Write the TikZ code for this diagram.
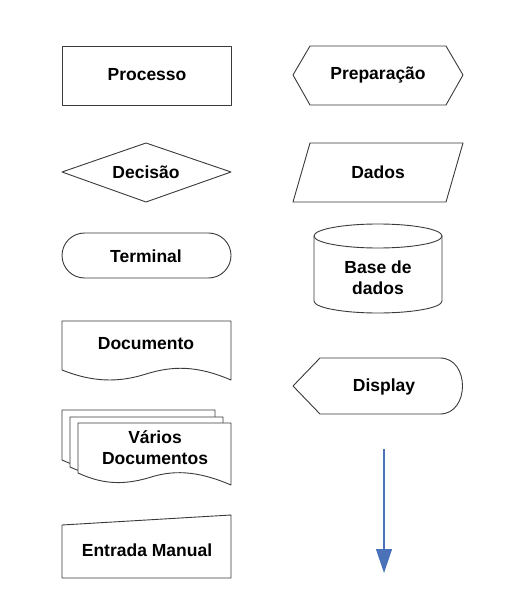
\documentclass[tikz,border=0pt]{standalone}
\usepackage{fontspec}
\setmainfont{Liberation Sans}
\usetikzlibrary{arrows.meta}

\definecolor{linha}{HTML}{3A3A3A}
\definecolor{seta}{HTML}{4A72B8}

\begin{document}
\begin{tikzpicture}[x=1pt,y=-1pt,
    forma/.style={draw=linha, line width=0.9pt, fill=white, line join=round},
    rotulo/.style={font=\fontsize{17.5}{21}\selectfont\bfseries, align=center, text=black}]
            \useasboundingbox (0,0) rectangle (516,609);
            % coluna da esquerda
            \draw[forma] (62,46) rectangle (231,105);
            \draw[forma] (62,172) -- (146,143) -- (231,172) -- (146,202) -- cycle;
            \draw[forma, rounded corners=22.5pt] (62,233) rectangle (231,278);
            \draw[forma] (62,321) -- (231,321) -- (231,380)
                .. controls (196,365) and (172,366) .. (146,374)
                .. controls (118,383) and (92,382) .. (62,370) -- cycle;
            \foreach \d/\e in {0/0, 8/7, 16/13}
                \draw[forma, shift={(62+\d,410+\e)}] (0,0) -- (153,0) -- (153,62)
                    .. controls (118,47) and (94,47) .. (70,55)
                    .. controls (42,63) and (22,60) .. (0,50) -- cycle;
            \draw[forma] (62,525) -- (231,515) -- (231,578) -- (62,578) -- cycle;
            % coluna da direita
            \draw[forma] (293,75) -- (310,46) -- (446,46) -- (463,75) -- (446,105) -- (310,105) -- cycle;
            \draw[forma] (310,143) -- (463,143) -- (446,202) -- (293,202) -- cycle;
            \draw[forma] (314,236) -- (314,301) arc[start angle=180, end angle=360, x radius=64, y radius=-12]
                -- (442,236);
            \draw[forma] (378,236) ellipse [x radius=64, y radius=12];
            \draw[forma] (293,386) -- (320,358) -- (440,358)
                .. controls (470,358) and (470,414) .. (440,414) -- (320,414) -- cycle;
            % textos
            \node[rotulo] (processo) at (147,75)  {Processo};
            \node[rotulo] (preparacao) at (378,75) {Preparação};
            \node[rotulo] (decisao) at (146,172)  {Decisão};
            \node[rotulo] (dados) at (378,172)    {Dados};
            \node[rotulo] (terminal) at (146,256) {Terminal};
            \node[rotulo] (base) at (378,278)     {Base de\\dados};
            \node[rotulo] (documento) at (146,344) {Documento};
            \node[rotulo] (display) at (384,387)  {Display};
            \node[rotulo] (varios) at (155,448)   {Vários\\Documentos};
            \node[rotulo] (entrada) at (147,550)  {Entrada Manual};
            % seta
            \coordinate (inicio) at (384,449);
            \coordinate (fim) at (384,573);
            \draw[seta, line width=1.3pt, -{Triangle[length=24pt, width=16pt]}] (inicio) -- (fim);
        \end{tikzpicture}
\end{document}
